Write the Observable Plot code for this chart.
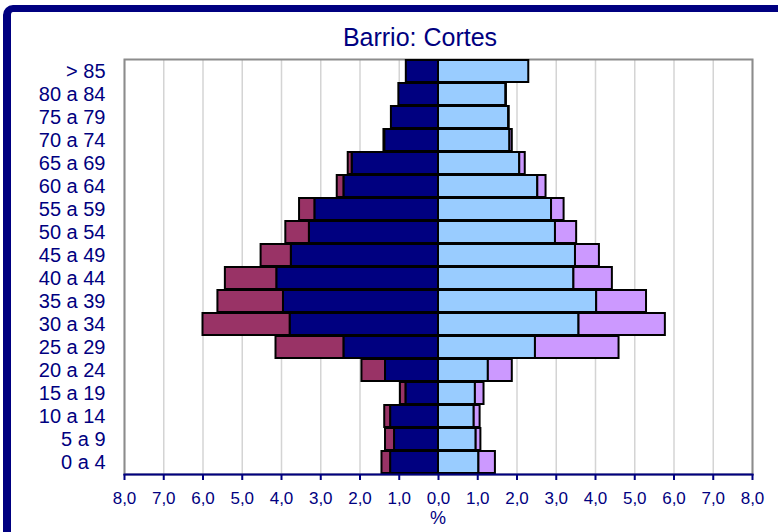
<!DOCTYPE html>
<html>
<head>
<meta charset="utf-8">
<script src="https://cdn.jsdelivr.net/npm/d3@7"></script>
<script src="https://cdn.jsdelivr.net/npm/@observablehq/plot@0.6"></script>
<style>
  html, body { margin: 0; padding: 0; background: #fff; overflow: hidden; }
  #wrap { position: relative; width: 778px; height: 532px; overflow: hidden; font-family: "Liberation Sans", Arial, sans-serif; color: #000080; }
  #border { position: absolute; left: 3px; top: 5px; width: 800px; height: 560px; border: 7px solid #000080; border-left-width: 8px; border-radius: 10px; box-sizing: border-box; }
  #title { position: absolute; left: 0; top: 25px; width: 840px; text-align: center; font-size: 25px; line-height: 1; }
  #chart { position: absolute; left: 0; top: 56px; }
  #xlabel { position: absolute; left: 0; top: 509px; width: 876px; text-align: center; font-size: 18px; line-height: 1; }
</style>
</head>
<body>
<div id="wrap">
  <div id="border"></div>
  <div id="title">Barrio: Cortes</div>
  <div id="chart"></div>
  <div id="xlabel">%</div>
</div>
<script>
const ages = ["> 85","80 a 84","75 a 79","70 a 74","65 a 69","60 a 64","55 a 59","50 a 54","45 a 49","40 a 44","35 a 39","30 a 34","25 a 29","20 a 24","15 a 19","10 a 14","5 a 9","0 a 4"];
const maleNative    = [0.82,1.01,1.20,1.37,2.20,2.41,3.15,3.29,3.75,4.12,3.95,3.78,2.41,1.35,0.83,1.22,1.12,1.22];
const maleForeign   = [0.00,0.00,0.00,0.02,0.10,0.17,0.39,0.60,0.77,1.31,1.67,2.22,1.73,0.60,0.14,0.15,0.23,0.22];
const femaleNative  = [2.30,1.72,1.79,1.82,2.07,2.53,2.88,2.98,3.49,3.45,4.03,3.58,2.47,1.27,0.94,0.91,0.96,1.03];
const femaleForeign = [0.00,0.01,0.01,0.06,0.14,0.21,0.32,0.54,0.61,0.98,1.27,2.20,2.13,0.61,0.22,0.15,0.12,0.42];
const groups = ["Hombres nacionales","Hombres extranjeros","Mujeres nacionales","Mujeres extranjeras"];
const groupColors = ["#000080","#993366","#99CCFF","#CC99FF"];
const xTicks = [-8,-7,-6,-5,-4,-3,-2,-1,0,1,2,3,4,5,6,7,8];

const rows = ages.flatMap((a, i) => [
  {age: a, group: groups[0], value: -maleNative[i]},
  {age: a, group: groups[1], value: -maleForeign[i]},
  {age: a, group: groups[2], value: femaleNative[i]},
  {age: a, group: groups[3], value: femaleForeign[i]}
]);

const chart = Plot.plot({
  width: 778,
  height: 452,
  marginTop: 3,
  marginBottom: 34,
  marginLeft: 124,
  marginRight: 26,
  style: {fontFamily: "'Liberation Sans', Arial, sans-serif", background: "transparent"},
  x: {domain: [-8, 8], label: null},
  y: {domain: ages, paddingInner: 0.06, paddingOuter: 0.03, label: null},
  color: {domain: groups, range: groupColors},
  marks: [
    Plot.gridX(xTicks, {stroke: "#d4d4d4", strokeOpacity: 1, strokeWidth: 1.5}),
    Plot.frame({stroke: "#8c8c8c", strokeWidth: 2}),
    Plot.barX(rows, {x: "value", y: "age", fill: "group", z: "group", stroke: "black", strokeWidth: 2}),
    Plot.frame({anchor: "bottom", stroke: "#000080", strokeWidth: 2}),
    Plot.axisX(xTicks, {tickSize: 6, tickPadding: 11, fontSize: 17, color: "#000080", strokeWidth: 2,
      tickFormat: d => Math.abs(d).toFixed(1).replace(".", ","), label: null}),
    Plot.axisY({tickSize: 0, tickPadding: 19, fontSize: 20, color: "#000080", label: null})
  ]
});
document.getElementById("chart").appendChild(chart);
</script>
</body>
</html>
